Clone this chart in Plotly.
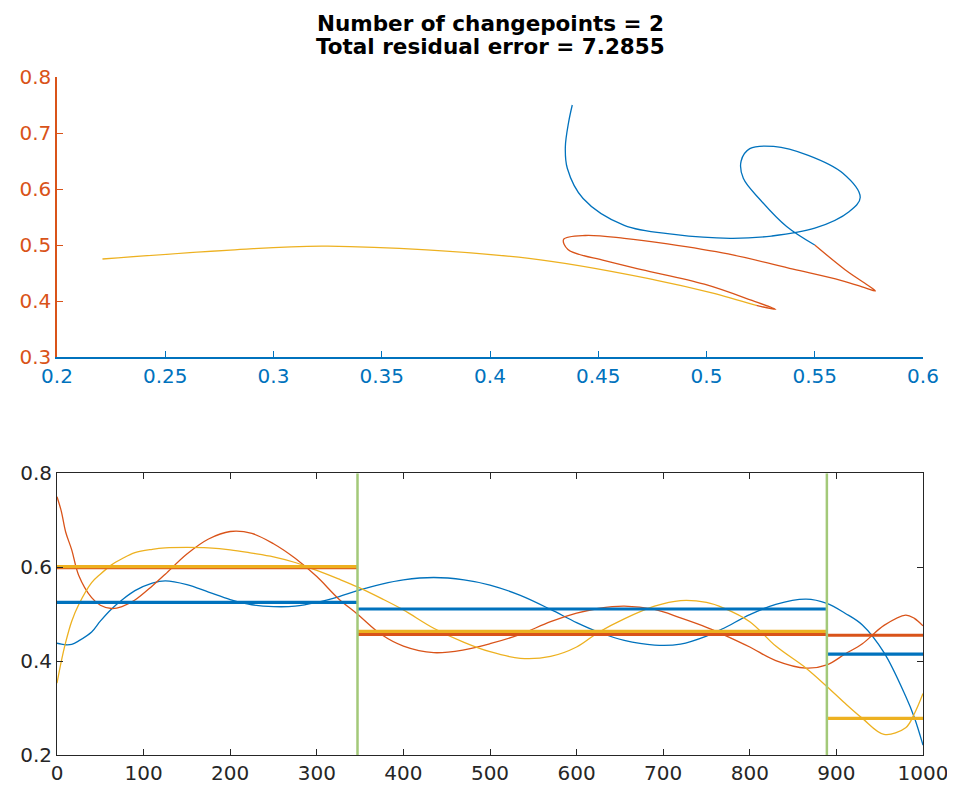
import plotly.graph_objs as go
from plotly.subplots import make_subplots

# sample index of the readings (shared by all three channels)
t = [0, 5, 10, 17, 25, 40, 50, 63, 75, 90, 110, 125, 150, 175, 200, 225, 250, 275, 300, 325, 347,
     375, 400, 435, 470, 500, 535, 570, 600, 625, 655, 690, 720, 750, 770, 800, 830, 865, 889,
     910, 930, 955, 980, 990, 1000]

ch1 = [0.438, 0.4363, 0.4348, 0.4357, 0.443, 0.462, 0.485, 0.511, 0.530, 0.550, 0.566, 0.571, 0.563,
       0.547, 0.531, 0.520, 0.516, 0.517, 0.525, 0.537, 0.550, 0.564, 0.573, 0.578, 0.573, 0.562,
       0.540, 0.510, 0.482, 0.462, 0.444, 0.434, 0.436, 0.453, 0.470, 0.499, 0.521, 0.532, 0.523,
       0.502, 0.477, 0.418, 0.325, 0.280, 0.221]

ch2 = [0.750, 0.719, 0.675, 0.637, 0.583, 0.535, 0.519, 0.512, 0.516, 0.530, 0.560, 0.585, 0.628,
       0.660, 0.676, 0.672, 0.650, 0.619, 0.580, 0.533, 0.500, 0.456, 0.432, 0.418, 0.424, 0.437,
       0.457, 0.484, 0.502, 0.512, 0.517, 0.510, 0.492, 0.472, 0.456, 0.430, 0.401, 0.385, 0.392,
       0.415, 0.437, 0.476, 0.498, 0.491, 0.475]

ch3 = [0.353, 0.400, 0.440, 0.485, 0.520, 0.567, 0.585, 0.605, 0.618, 0.631, 0.638, 0.641, 0.642,
       0.641, 0.637, 0.630, 0.622, 0.610, 0.593, 0.575, 0.558, 0.533, 0.509, 0.470, 0.440, 0.420,
       0.406, 0.410, 0.430, 0.461, 0.490, 0.517, 0.529, 0.525, 0.513, 0.484, 0.432, 0.385, 0.346,
       0.310, 0.278, 0.244, 0.258, 0.288, 0.331]

changepoints = [347, 889]
seg_bounds = [0, 347, 889, 1000]
mean1 = [0.525, 0.511, 0.415]
mean2 = [0.599, 0.457, 0.455]
mean3 = [0.601, 0.4635, 0.278]

title_lines = ['Number of changepoints = 2', 'Total residual error = 7.2855']

colors = ['#0072BD', '#D95319', '#EDB120']
axis_col = '#262626'
font = 'DejaVu Sans, Verdana, sans-serif'

fig = make_subplots(rows=2, cols=1)

# top: channel 1 vs channel 2, coloured by segment
for k in range(3):
    idx = [i for i, v in enumerate(t) if seg_bounds[k] <= v <= seg_bounds[k + 1]]
    fig.add_trace(go.Scatter(x=[ch1[i] for i in idx], y=[ch2[i] for i in idx], mode='lines',
                             line=dict(color=colors[k], width=1.3, shape='spline', smoothing=1)),
                  row=1, col=1)

# bottom: signals
for ch, c in zip([ch1, ch2, ch3], colors):
    fig.add_trace(go.Scatter(x=t, y=ch, mode='lines',
                             line=dict(color=c, width=1.3, shape='spline', smoothing=1)),
                  row=2, col=1)

# segment means
for means, c in zip([mean1, mean2, mean3], colors):
    for k in range(3):
        fig.add_trace(go.Scatter(x=[seg_bounds[k], seg_bounds[k + 1]], y=[means[k], means[k]],
                                 mode='lines', line=dict(color=c, width=3.2)),
                      row=2, col=1)

# change points
for cp in changepoints:
    fig.add_trace(go.Scatter(x=[cp, cp], y=[0.2, 0.8], mode='lines',
                             line=dict(color='#A3C979', width=2.5)),
                  row=2, col=1)

# the page body adds an 8px offset, margins are set so the plot areas land where they should
fig.update_layout(
    width=955, height=791,
    margin=dict(l=49, r=40, t=69, b=44, autoexpand=False),
    plot_bgcolor='white', paper_bgcolor='white',
    showlegend=False,
    font=dict(family=font, size=20, color=axis_col),
)

for line, ypos in zip(title_lines, [1.0796, 1.045]):
    fig.add_annotation(text='<b>' + line + '</b>', xref='paper', yref='paper', x=0.5, y=ypos,
                       xanchor='center', yanchor='middle', showarrow=False,
                       font=dict(family=font, size=21.5, color='black'))

fig.update_xaxes(row=1, col=1, domain=[0, 1], range=[0.2, 0.6], dtick=0.05, tick0=0.2,
                 showline=True, linecolor=colors[0], linewidth=1.5, ticks='inside', ticklen=6,
                 tickcolor=colors[0], tickfont=dict(color=colors[0]), showgrid=False, zeroline=False)
fig.update_yaxes(row=1, col=1, domain=[0.587, 1], range=[0.3, 0.8], dtick=0.1,
                 showline=True, linecolor=colors[1], linewidth=1.5, ticks='inside', ticklen=6,
                 tickcolor=colors[1], tickfont=dict(color=colors[1]), showgrid=False, zeroline=False)

fig.update_xaxes(row=2, col=1, domain=[0, 1], range=[0, 1000], dtick=100, tick0=0,
                 showline=True, mirror='ticks', linecolor=axis_col, linewidth=1, ticks='inside',
                 ticklen=6, tickcolor=axis_col, showgrid=False, zeroline=False)
fig.update_yaxes(row=2, col=1, domain=[0, 0.4155], range=[0.2, 0.8], dtick=0.2, tick0=0.2,
                 showline=True, mirror='ticks', linecolor=axis_col, linewidth=1, ticks='inside',
                 ticklen=6, tickcolor=axis_col, showgrid=False, zeroline=False)

fig.update_xaxes(automargin=False)
fig.update_yaxes(automargin=False)

fig.write_html("out.html")
